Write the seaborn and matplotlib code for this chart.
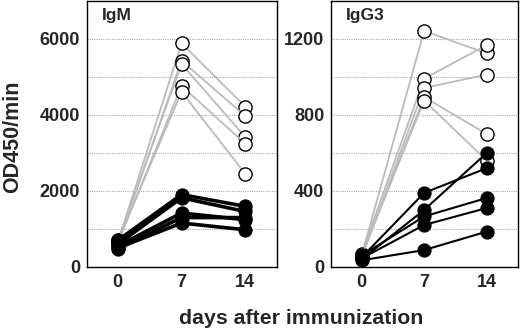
import matplotlib
matplotlib.use("Agg")
import matplotlib.pyplot as plt
import seaborn as sns
import pandas as pd

days = [0, 7, 14]

# IgM, OD450/min
igm_open = [[650, 5886, 4220], [600, 5430, 3970], [700, 5340, 3420],
            [620, 4770, 3240], [680, 4610, 2450]]
igm_filled = [[700, 1905, 1595], [600, 1820, 1460], [550, 1420, 1243],
              [480, 1300, 1300], [500, 1156, 979]]

# IgG3, OD450/min
igg3_open = [[60, 1243, 1124], [70, 991, 1168], [50, 942, 1013],
             [55, 894, 700], [65, 876, 560]]
igg3_filled = [[50, 390, 520], [40, 300, 600], [60, 266, 363],
               [45, 221, 310], [35, 89, 186]]


def to_long(rows):
    recs = []
    for i, r in enumerate(rows):
        for d, v in zip(days, r):
            recs.append({"id": i, "day": d, "value": v})
    return pd.DataFrame(recs)


sns.set_style("white")
plt.rcParams["font.family"] = ["Liberation Sans", "DejaVu Sans"]
plt.rcParams["font.weight"] = "bold"

fig = plt.figure(figsize=(5.2, 3.3), dpi=100)
ax1 = fig.add_axes([0.167, 0.191, 0.366, 0.806])
ax2 = fig.add_axes([0.637, 0.191, 0.359, 0.806])

panels = [
    (ax1, igm_open, igm_filled, 7000, 1000, [0, 2000, 4000, 6000], "IgM", 2.6),
    (ax2, igg3_open, igg3_filled, 1400, 200, [0, 400, 800, 1200], "IgG3", 1.5),
]

for ax, op, fi, top, step, yt, name, lw in panels:
    for y in range(step, top, step):
        ax.axhline(y, color="#aaaaaa", lw=0.8, ls=(0, (1, 1)), zorder=0)
    sns.lineplot(data=to_long(op), x="day", y="value", units="id", estimator=None,
                 color="#bbbbbb", lw=1.3, marker="o", markersize=9.5,
                 markerfacecolor="white", markeredgecolor="black",
                 markeredgewidth=1.0, ax=ax, zorder=2, legend=False)
    sns.lineplot(data=to_long(fi), x="day", y="value", units="id", estimator=None,
                 color="black", lw=lw, marker="o", markersize=9.5,
                 markerfacecolor="black", markeredgecolor="black",
                 ax=ax, zorder=3, legend=False)
    ax.set_xlim(-3.4, 17.5)
    ax.set_ylim(0, top)
    ax.set_xticks(days)
    ax.set_yticks(yt)
    ax.tick_params(labelsize=13, length=0, pad=5)
    for lab in ax.get_xticklabels() + ax.get_yticklabels():
        lab.set_fontweight("bold")
    ax.set_xlabel("")
    ax.set_ylabel("")
    for s in ax.spines.values():
        s.set_color("black")
        s.set_linewidth(1.0)
    ax.text(0.08, 0.975, name, transform=ax.transAxes, fontsize=12.5,
            fontweight="bold", va="top", ha="left")

fig.text(0.025, 0.585, "OD450/min", rotation=90, fontsize=15.5, fontweight="bold",
         ha="center", va="center")
fig.text(0.58, 0.035, "days after immunization", fontsize=15.3, fontweight="bold",
         ha="center", va="center")

fig.savefig("out.png", dpi=100)
